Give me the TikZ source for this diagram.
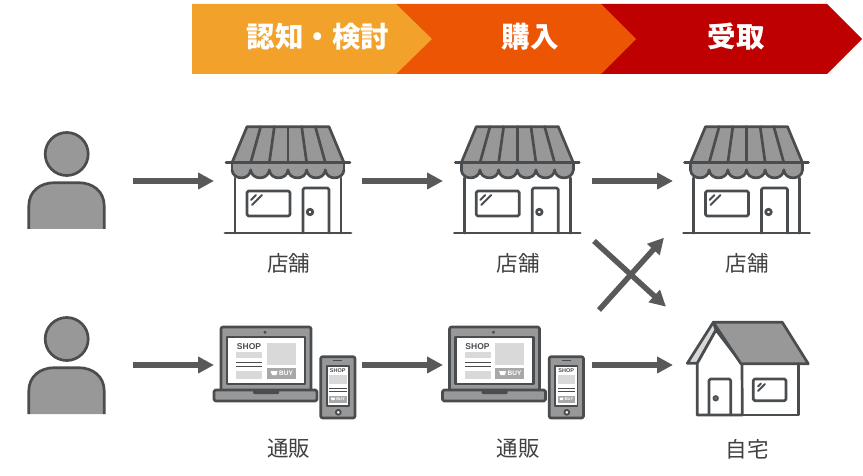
\documentclass[tikz,border=0pt]{standalone}
\usepackage{fontspec}
\setmainfont{Noto Sans CJK JP}
\newfontfamily\latinbold{Liberation Sans}
\usetikzlibrary{arrows.meta}
\definecolor{inkline}{HTML}{4A4D50}
\definecolor{roofgray}{HTML}{989898}
\definecolor{panelgray}{HTML}{D9D9D9}
\definecolor{shaftgray}{HTML}{595959}
\definecolor{stepone}{HTML}{F2A22B}
\definecolor{steptwo}{HTML}{EC5504}
\definecolor{stepthree}{HTML}{BE0000}
\tikzset{
  outline/.style={draw=inkline,line width=2.7pt,line join=round,line cap=round},
  thinline/.style={draw=inkline,line width=1.9pt,line join=round,line cap=round},
  flow/.style={draw=shaftgray,line width=5.5pt,-{Triangle[length=16pt,width=16pt]}},
  slot/.style={minimum width=#1,minimum height=10pt,inner sep=0pt,outer sep=0pt},
  caption/.style={font=\fontsize{21.5}{21.5}\selectfont,text=black!75,inner sep=0pt},
  stagetext/.style={font=\fontsize{28.5}{28.5}\selectfont\bfseries,text=white,inner sep=0pt},
  pics/person/.style={code={
    \fill[roofgray] (-37.7,48) -- (-37.7,25) .. controls (-37.7,10) and (-26,1.7) .. (-12,1.7)
      -- (12,1.7) .. controls (26,1.7) and (37.7,10) .. (37.7,25) -- (37.7,48) -- cycle;
    \draw[outline,line cap=butt] (-37.7,48) -- (-37.7,25) .. controls (-37.7,10) and (-26,1.7) .. (-12,1.7)
      -- (12,1.7) .. controls (26,1.7) and (37.7,10) .. (37.7,25) -- (37.7,48);
    \filldraw[outline,fill=roofgray] (0.2,-27) circle (21.5pt);
  }},
  pics/store/.style={code={
    % walls and floor
    \draw[outline] (-53,-3) -- (-53,52) (53,-3) -- (53,52);
    \draw[outline] (-63,52) -- (63,52);
    % awning
    \filldraw[outline,fill=roofgray] (-41,-54.3) -- (41,-54.3) -- (56,-18.3) -- (-56,-18.3) -- cycle;
    \fill[roofgray] (-56,-18.3) rectangle (56,-11);
    \draw[outline] (-56,-18.3) -- (-56,-11) (56,-18.3) -- (56,-11);
    \foreach \i in {-3,...,2}{
      \filldraw[outline,fill=roofgray] ({\i*18.67},-11)
        .. controls ({\i*18.67+1},-0.5) and ({\i*18.67+17.7},-0.5) .. ({(\i+1)*18.67},-11);
    }
    \foreach \i in {-2,...,2}{
      \draw[outline] ({\i*13.67},-54.3) -- ({\i*18.67},-18.3);
    }
    \draw[outline] (-62,-18.3) -- (62,-18.3);
    % window
    \draw[outline,rounded corners=1.5pt] (-41,10) rectangle (2,35);
    \draw[thinline] (-36,24) -- (-26,14) (-37,19) -- (-32,14);
    % door
    \draw[outline,rounded corners=1.5pt] (15,52) -- (15,7) -- (41,7) -- (41,52);
    \draw[outline] (22,31) circle (2.8pt);
  }},
  pics/online/.style={code={
    % laptop
    \filldraw[outline,fill=roofgray,rounded corners=2pt] (-67,-38) rectangle (23,26);
    \filldraw[outline,fill=roofgray,rounded corners=1.5pt] (-74,25) rectangle (29,36);
    \fill[inkline,rounded corners=1pt] (-35,25) rectangle (-9,29);
    \fill[inkline] (-23,-32.7) circle (1.6pt);
    \filldraw[outline,fill=white] (-61,-28) rectangle (17,19);
    \node[inner sep=0pt,text=inkline,font=\latinbold\fontsize{8.5}{8.5}\selectfont\bfseries] (shopa) at (-39,-18.7) {SHOP};
    \fill[panelgray] (-52,-13.3) rectangle (-26,-6.7);
    \draw[draw=inkline,line width=1.5pt] (-52,-2.3) -- (-26,-2.3) (-52,1.7) -- (-26,1.7);
    \fill[panelgray] (-52,5.7) rectangle (-26,14.3);
    \fill[panelgray] (-21.3,-21.7) rectangle (7.7,0);
    \fill[roofgray!85] (-21.3,2.7) rectangle (7.7,14.3);
    \fill[white] (-17.5,6) -- (-10.5,6) -- (-11.5,10) -- (-16,10) -- cycle;
    \node[inner sep=0pt,text=white,font=\latinbold\fontsize{6.5}{6.5}\selectfont\bfseries] (buya) at (-2,8.5) {BUY};
    % phone
    \filldraw[outline,fill=roofgray,rounded corners=2pt] (32.7,-8.3) rectangle (67,53);
    \draw[draw=inkline,line width=1pt] (45.3,-4.3) -- (54.3,-4.3);
    \filldraw[thinline,fill=white] (38.7,1) rectangle (61,41);
    \node[inner sep=0pt,text=inkline,font=\latinbold\fontsize{5.5}{5.5}\selectfont\bfseries] (shopb) at (49.7,6) {SHOP};
    \fill[panelgray] (41.3,10) rectangle (58.7,19.3);
    \draw[draw=inkline,line width=1pt] (41.3,23.3) -- (58.7,23.3) (41.3,26.7) -- (58.7,26.7);
    \fill[roofgray!85] (41.3,30.7) rectangle (58.7,37.7);
    \fill[white] (43,32.7) -- (47,32.7) -- (46.4,35.2) -- (43.6,35.2) -- cycle;
    \node[inner sep=0pt,text=white,font=\latinbold\fontsize{4}{4}\selectfont\bfseries] (buyb) at (52.5,34.2) {BUY};
    \filldraw[thinline,fill=white] (50.3,47.3) circle (2.4pt);
  }},
  pics/home/.style={code={
    % gable side with its pale strip
    \filldraw[outline,fill=panelgray] (-33.7,-42.7) -- (-59.7,-1.7) -- (-49.7,-1.7) -- (-31,-35) -- cycle;
    \draw[outline,fill=white] (-49.7,-1.7) -- (-31,-35) -- (-5,-1) -- (-4.7,50) -- (-49.7,50) -- cycle;
    % main roof
    \filldraw[outline,fill=roofgray] (-33.7,-42.7) -- (35.3,-42.7) -- (61.3,-1.2) -- (-6,-1.2) -- cycle;
    % right wing
    \draw[outline] (51.3,-1.2) -- (51.3,50) -- (-49.7,50);
    % door
    \draw[outline,rounded corners=1.5pt] (-38,50) -- (-38,14) -- (-16.3,14) -- (-16.3,50);
    \filldraw[draw=inkline,line width=1.4pt,fill=roofgray!70!black] (-31.3,33.3) circle (2.4pt);
    % window
    \draw[outline,rounded corners=1.5pt] (6.3,14) rectangle (39,35.7);
    \draw[thinline] (11,26) -- (18,19) (11,21.5) -- (14,18.5);
  }}
}
\begin{document}
\begin{tikzpicture}[x=1pt,y=-1pt]
\useasboundingbox (0,0) rectangle (863,476);
% process banner
\fill[stepthree] (601,4) -- (827,4) -- (862,39) -- (827,74) -- (601,74) -- cycle;
\fill[steptwo] (396,4) -- (601,4) -- (636,39) -- (601,74) -- (396,74) -- cycle;
\fill[stepone] (192,4) -- (396,4) -- (432,39) -- (396,74) -- (192,74) -- cycle;
\node[stagetext] (stage1) at (318,37) {認知・検討};
\node[stagetext] (stage2) at (530,37) {購入};
\node[stagetext] (stage3) at (736,37) {受取};
% icons
\pic at (66.5,181) {person};
\pic at (66.5,366) {person};
\pic at (288,181) {store};
\pic at (517.3,181) {store};
\pic at (746.5,181) {store};
\pic at (288,365) {online};
\pic at (516.5,365) {online};
\pic at (747,365) {home};
% anchors for the connectors
\node[slot=133pt] (p1) at (66.5,181) {};
\node[slot=133pt] (p2) at (66.5,365) {};
\node[slot=148pt] (s1) at (288,181) {};
\node[slot=149pt] (s2) at (517.5,181) {};
\node[slot=148pt] (s3) at (747,181) {};
\node[slot=148pt] (o1) at (288,365) {};
\node[slot=149pt] (o2) at (517.5,365) {};
\node[slot=148pt] (h1) at (747,365) {};
\coordinate (crossA) at (594,241);
\coordinate (crossB) at (666,306.7);
\coordinate (crossC) at (599,310);
\coordinate (crossD) at (664,237.7);
% connectors
\draw[flow] (p1.east) -- (s1.west);
\draw[flow] (s1.east) -- (s2.west);
\draw[flow] (s2.east) -- (s3.west);
\draw[flow] (p2.east) -- (o1.west);
\draw[flow] (o1.east) -- (o2.west);
\draw[flow] (o2.east) -- (h1.west);
\draw[flow] (crossA) -- (crossB);
\draw[flow] (crossC) -- (crossD);
% captions
\node[caption] (c1) at (288.5,263) {店舗};
\node[caption] (c2) at (518,263) {店舗};
\node[caption] (c3) at (747,263) {店舗};
\node[caption] (c4) at (288.5,449) {通販};
\node[caption] (c5) at (518,449) {通販};
\node[caption] (c6) at (747,449) {自宅};
\end{tikzpicture}
\end{document}
